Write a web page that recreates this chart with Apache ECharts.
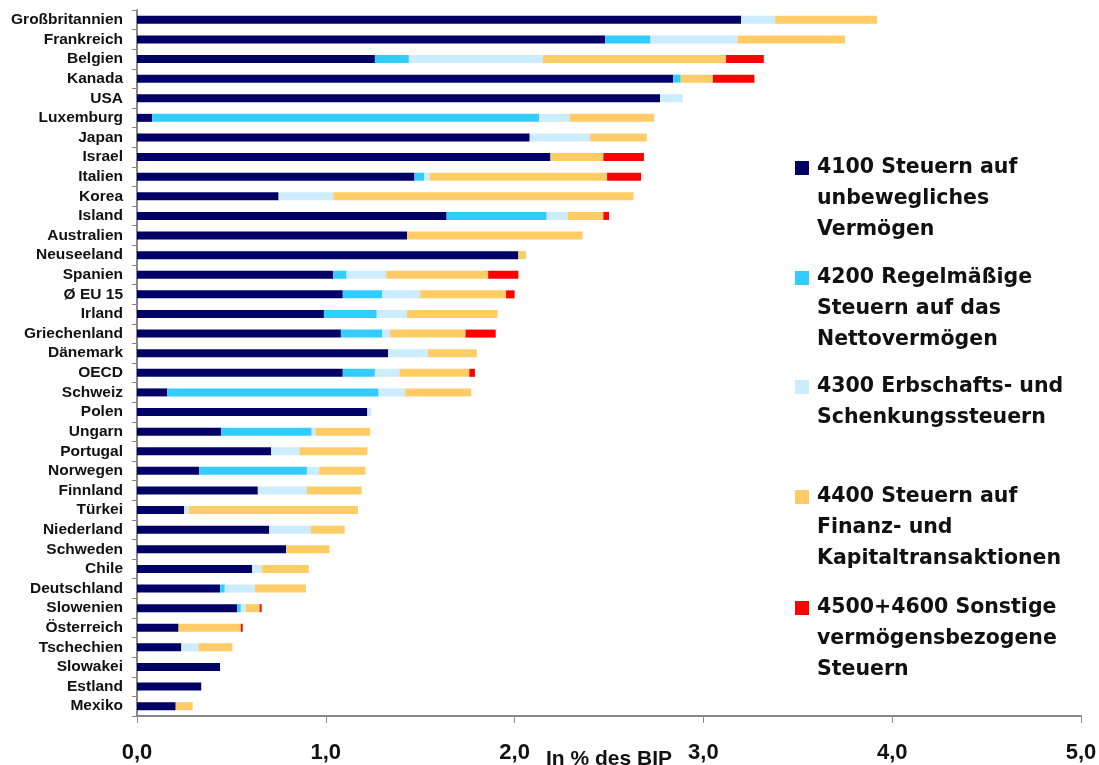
<!DOCTYPE html>
<html>
<head>
<meta charset="utf-8">
<script src="https://cdn.jsdelivr.net/npm/echarts@6/dist/echarts.min.js"></script>
<style>
html,body{margin:0;padding:0;background:#fff;}
#chart{width:1099px;height:765px;}
</style>
</head>
<body>
<div id="chart"></div>
<script>
const categories = ['Großbritannien','Frankreich','Belgien','Kanada','USA','Luxemburg','Japan','Israel','Italien','Korea','Island','Australien','Neuseeland','Spanien','Ø EU 15','Irland','Griechenland','Dänemark','OECD','Schweiz','Polen','Ungarn','Portugal','Norwegen','Finnland','Türkei','Niederland','Schweden','Chile','Deutschland','Slowenien','Österreich','Tschechien','Slowakei','Estland','Mexiko'];

const s4100 = [3.20,2.48,1.26,2.84,2.77,0.08,2.08,2.19,1.47,0.75,1.64,1.43,2.02,1.04,1.09,0.99,1.08,1.33,1.09,0.16,1.22,0.445,0.71,0.33,0.64,0.25,0.70,0.79,0.61,0.44,0.53,0.22,0.235,0.44,0.34,0.205];
const s4200 = [0,0.24,0.18,0.04,0,2.05,0,0,0.05,0,0.53,0,0,0.07,0.21,0.28,0.22,0,0.17,1.12,0,0.48,0,0.57,0,0,0,0,0,0.025,0.02,0,0,0,0,0];
const s4300 = [0.18,0.46,0.71,0,0.12,0.16,0.32,0,0.03,0.29,0.11,0,0,0.21,0.20,0.16,0.04,0.21,0.13,0.14,0.02,0.02,0.15,0.065,0.26,0.025,0.22,0,0.05,0.16,0.025,0,0.09,0,0,0];
const s4400 = [0.54,0.57,0.97,0.17,0,0.45,0.30,0.28,0.94,1.59,0.19,0.93,0.04,0.54,0.455,0.48,0.40,0.26,0.37,0.35,0,0.29,0.36,0.245,0.29,0.895,0.18,0.23,0.25,0.27,0.075,0.33,0.18,0,0,0.09];
const s4500 = [0,0,0.20,0.22,0,0,0,0.215,0.18,0,0.03,0,0,0.16,0.045,0,0.16,0,0.03,0,0,0,0,0,0,0,0,0,0,0,0.01,0.01,0,0,0,0];

const xTicks = [0,1,2,3,4,5];

const seriesNames = [
  '4100 Steuern auf\nunbewegliches\nVermögen',
  '4200 Regelmäßige\nSteuern auf das\nNettovermögen',
  '4300 Erbschafts- und\nSchenkungssteuern',
  '4400 Steuern auf\nFinanz- und\nKapitaltransaktionen',
  '4500+4600 Sonstige\nvermögensbezogene\nSteuern'
];
const seriesData = [s4100, s4200, s4300, s4400, s4500];
const colors = ['#000066','#33CCFF','#CCECFF','#FFCC66','#FF0000'];
const legendFirstLine = [168, 278, 387, 497, 608];

const LH = 31;
const SQ = 14;
const legends = seriesNames.map((name, i) => {
  const n = name.split('\n').length;
  const H = n * LH;
  const y0 = LH / 2 - SQ / 2;
  // square icon aligned with the first text line; a zero-area stroke-less segment fixes the icon's frame height
  const icon = 'path://M0,' + y0 + 'L' + SQ + ',' + y0 + 'L' + SQ + ',' + (y0 + SQ) + 'L0,' + (y0 + SQ) + 'Z M0,0 L0,' + H;
  return {
    show: true,
    orient: 'vertical',
    left: 795,
    top: legendFirstLine[i] - LH / 2,
    padding: 0,
    itemWidth: SQ,
    itemHeight: H,
    itemGap: 0,
    icon: icon,
    selectedMode: false,
    data: [name],
    textStyle: {
      fontFamily: 'DejaVu Sans',
      fontWeight: 'bold',
      fontSize: 20.5,
      lineHeight: LH,
      color: '#111',
      padding: [0, 0, 0, 3]
    }
  };
});

const chart = echarts.init(document.getElementById('chart'), null, {renderer: 'canvas'});
chart.setOption({
  animation: false,
  backgroundColor: '#fff',
  color: colors,
  legend: legends,
  grid: {left: 137, right: 18, top: 10, bottom: 49, containLabel: false, outerBoundsMode: 'none'},
  xAxis: {
    type: 'value',
    min: xTicks[0],
    max: xTicks[xTicks.length - 1],
    interval: 1,
    name: 'In % des BIP',
    nameLocation: 'middle',
    nameGap: 33,
    nameMoveOverlap: false,
    nameTextStyle: {fontFamily: 'Liberation Sans', fontWeight: 'bold', fontSize: 21, color: '#111'},
    axisLine: {show: true, lineStyle: {color: '#888', width: 2}},
    axisTick: {show: true, length: 7, lineStyle: {color: '#888', width: 1}},
    splitLine: {show: false},
    axisLabel: {
      margin: 26,
      fontFamily: 'Liberation Sans', fontWeight: 'bold', fontSize: 22, color: '#111',
      formatter: v => v.toFixed(1).replace('.', ',')
    }
  },
  yAxis: {
    type: 'category',
    inverse: true,
    data: categories,
    axisLine: {show: true, lineStyle: {color: '#888', width: 2}},
    axisTick: {show: true, length: 5, interval: 0, lineStyle: {color: '#888', width: 1}},
    axisLabel: {
      interval: 0,
      margin: 14,
      fontFamily: 'Liberation Sans', fontWeight: 'bold', fontSize: 15.5, color: '#111'
    }
  },
  series: seriesNames.map((name, i) => ({
    name: name,
    type: 'bar',
    stack: 'total',
    barWidth: 8,
    data: seriesData[i],
    itemStyle: {color: colors[i]}
  }))
});
</script>
</body>
</html>
